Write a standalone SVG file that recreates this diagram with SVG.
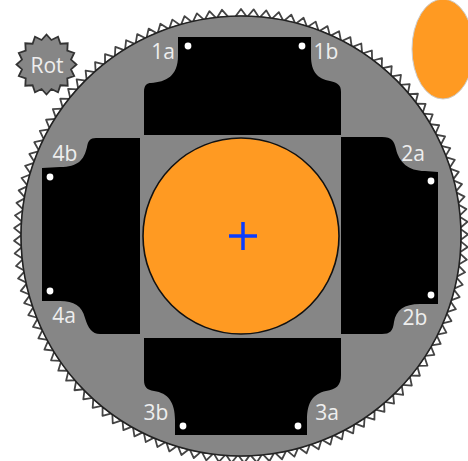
<svg xmlns="http://www.w3.org/2000/svg" width="468" height="461" viewBox="0 0 468 461">
<style>
.t{font-family:"Open Sans","Noto Sans",sans-serif;font-size:21px;fill:#eee;text-anchor:middle}
.d{fill:#fff}
.b{fill:#000}
</style>
<defs>
<polygon id="t" points="-5.6,-219.5 0,-227 5.6,-219.5" fill="#fff" stroke="#444" stroke-width="1.8" stroke-linejoin="round"/>
<g id="t5"><use href="#t"/><use href="#t" transform="rotate(3.2)"/><use href="#t" transform="rotate(6.4)"/><use href="#t" transform="rotate(9.6)"/><use href="#t" transform="rotate(12.8)"/></g>
<g id="t25"><use href="#t5"/><use href="#t5" transform="rotate(16)"/><use href="#t5" transform="rotate(32)"/><use href="#t5" transform="rotate(48)"/><use href="#t5" transform="rotate(64)"/></g>
</defs>
<g id="connectors"/>
<g id="ring" transform="translate(241,236)">
<use href="#t25"/><use href="#t25" transform="rotate(80)"/><use href="#t25" transform="rotate(160)"/><use href="#t25" transform="rotate(240)"/>
<use href="#t5" transform="rotate(320)"/><use href="#t5" transform="rotate(336)"/>
<use href="#t" transform="rotate(352)"/><use href="#t" transform="rotate(355.2)"/>
<circle r="220" fill="#868686" stroke="#222" stroke-width="1.6"/>
</g>
<g id="rot">
<polygon transform="translate(46.5,64.5)" points="30,0 24.5,4.9 27.7,11.5 20.8,13.9 21.2,21.2 13.9,20.8 11.5,27.7 4.9,24.5 0,30 -4.9,24.5 -11.5,27.7 -13.9,20.8 -21.2,21.2 -20.8,13.9 -27.7,11.5 -24.5,4.9 -30,0 -24.5,-4.9 -27.7,-11.5 -20.8,-13.9 -21.2,-21.2 -13.9,-20.8 -11.5,-27.7 -4.9,-24.5 0,-30 4.9,-24.5 11.5,-27.7 13.9,-20.8 21.2,-21.2 20.8,-13.9 27.7,-11.5 24.5,-4.9" fill="#868686" stroke="#333" stroke-width="1.8"/>
<text class="t" x="47" y="73">Rot</text>
</g>
<ellipse id="marker" cx="443" cy="49" rx="31" ry="50" fill="#ff9a22" stroke="#ccc" stroke-width="1"/>
<g id="pad-top">
<path class="b" d="M144,135V92C144,85 147,83 151,83C166,82 178,76 178,56V37H311V56C311,72 318,79 330,81C338,83 341,85 341,92V135Z"/>
<circle class="d" cx="188" cy="46" r="3.4"/><circle class="d" cx="302" cy="46" r="3.4"/>
<text class="t" x="163" y="59">1a</text><text class="t" x="326" y="59">1b</text>
</g>
<g id="pad-right">
<path class="b" d="M341,137H382C392,137 394,141 396,149C399,162 408,171 425,171L438,172V304H420C404,304 396,310 394,322C393,331 390,334 382,334H341Z"/>
<circle class="d" cx="431" cy="181" r="3.4"/><circle class="d" cx="431" cy="295" r="3.4"/>
<text class="t" x="413" y="161">2a</text><text class="t" x="415" y="325">2b</text>
</g>
<g id="pad-bottom">
<path class="b" d="M144,338V380C144,387 147,390 154,391C168,393 175,402 175,420V435H307V420C307,402 313,394 326,391C336,389 341,386 341,375V338Z"/>
<circle class="d" cx="183" cy="426" r="3.4"/><circle class="d" cx="298" cy="426" r="3.4"/>
<text class="t" x="156" y="420">3b</text><text class="t" x="327" y="420">3a</text>
</g>
<g id="pad-left">
<path class="b" d="M140,138H96C90,138 88,141 87,147C84,160 78,167 60,167L42,168V301H60C74,301 82,306 85,318C88,328 92,334 100,334H140Z"/>
<circle class="d" cx="50" cy="177" r="3.4"/><circle class="d" cx="50" cy="291" r="3.4"/>
<text class="t" x="65" y="161">4b</text><text class="t" x="64" y="323">4a</text>
</g>
<g id="core">
<circle cx="241" cy="236" r="98" fill="#ff9a22" stroke="#111" stroke-width="1.6"/>
<path d="M229,236H257M243,222V250" fill="none" stroke="#0a3cff" stroke-width="3.5"/>
</g>
</svg>
